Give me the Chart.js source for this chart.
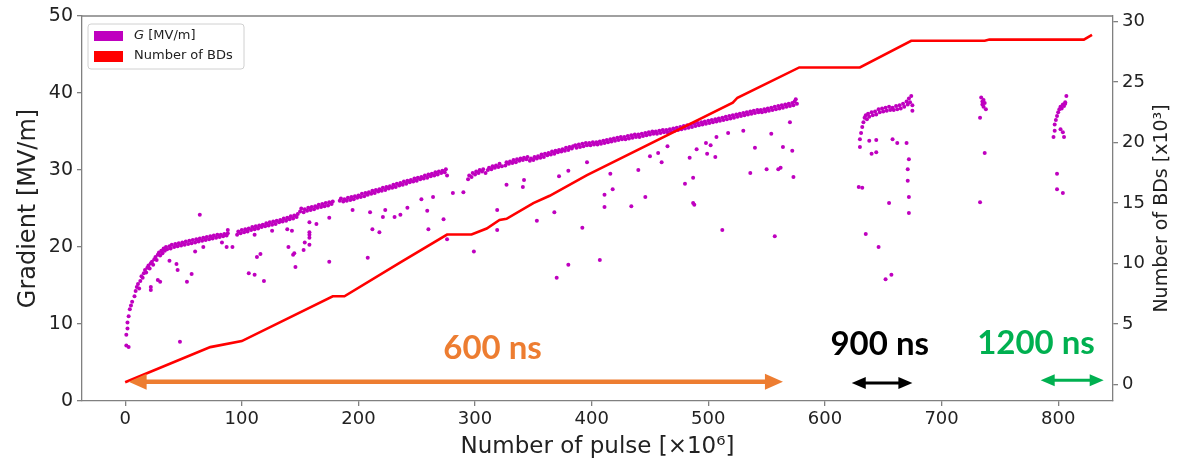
<!DOCTYPE html>
<html>
<head>
<meta charset="utf-8">
<script src="https://cdn.jsdelivr.net/npm/chart.js@4.4.1/dist/chart.umd.min.js"></script>
<style>
  html, body { margin: 0; padding: 0; background: #fff; }
  #wrap { width: 1197px; height: 463px; }
</style>
</head>
<body>
<div id="wrap"><canvas id="grafico" width="1197" height="463"></canvas></div>
<script>
// main dense band of the gradient, [pulse x1e6, MV/m]
const bandPoints = [
  [1,7.2],[1,8.6],[2,9.4],[2,10.2],[3,11.0],[4,11.9],[5,12.4],[6,12.9],[8,13.6],[9,14.3],[10,14.8],[11,15.2],[12,14.6],[13,15.6],[14,16.2],[15,16.0],[16,16.6],[17,17.0],[18,16.7],[19,17.3],[20,17.6],[21,17.2],[22,17.9],[23,18.1],[24,17.7],[25,18.4],[26,18.7],[27,18.3],[28,19.0],[29,19.3],[30,18.9],[31,19.5],[32,19.2],[33,19.8],[34,19.5],[35,20.0],[36,19.7],[38,20.1],[39,19.8],[40,20.3],[42,20.0],[43,20.4],[45,20.1],[46,20.5],[48,20.2],[49,20.6],[51,20.3],[52,20.7],[54,20.4],[55,20.8],[57,20.5],[58,20.9],[60,20.6],[61,21.0],[63,20.7],[64,21.1],[66,20.8],[67,21.2],[69,20.9],[70,21.3],[72,21.0],[73,21.4],[75,21.1],[76,21.5],[78,21.2],[79,21.6],[81,21.3],[82,21.6],[84,21.4],[85,21.7],[87,21.5],[88,21.8],
  [96,21.6],[97,22.0],[99,21.8],[100,22.2],[102,21.9],[103,22.3],[105,22.0],[106,22.4],[108,22.2],[109,22.6],[111,22.3],[112,22.7],[114,22.4],[115,22.8],[117,22.6],[118,22.9],[120,22.7],[121,23.1],[123,22.8],[124,23.2],[126,22.9],[127,23.3],[129,23.0],[130,23.4],[132,23.2],[133,23.5],[135,23.3],[136,23.7],[138,23.4],[139,23.8],[141,23.6],[142,24.0],[144,23.7],[145,24.1],[147,23.9],[148,24.3],[150,24.6],[151,25.0],[153,24.5],[154,24.9],[156,24.7],[157,25.1],[159,24.8],[160,25.2],[162,24.9],[163,25.3],[165,25.1],[166,25.5],[168,25.2],[169,25.6],[171,25.3],[172,25.7],[174,25.4],[175,25.8],[177,25.6],[178,25.9],
  [184,26.0],[185,26.3],[187,25.9],[188,26.2],[190,26.0],[191,26.4],[193,26.1],[194,26.5],[196,26.2],[197,26.6],[199,26.4],[200,26.7],[202,26.5],[203,26.9],[205,26.6],[206,27.0],[208,26.8],[209,27.1],[211,26.9],[212,27.3],[214,27.0],[215,27.4],[217,27.2],[218,27.5],[220,27.3],[221,27.7],[223,27.4],[224,27.8],[226,27.6],[227,27.9],[229,27.7],[230,28.1],[232,27.8],[233,28.2],[235,28.0],[236,28.3],[238,28.1],[239,28.5],[241,28.2],[242,28.6],[244,28.4],[245,28.7],[247,28.5],[248,28.9],[250,28.6],[251,29.0],[253,28.8],[254,29.1],[256,28.9],[257,29.3],[259,29.0],[260,29.4],[262,29.2],[263,29.5],[265,29.3],[266,29.7],[268,29.4],[269,29.8],[271,29.6],[272,29.9],[274,29.7],[275,30.1],[276,29.3],
  [294,28.8],[295,29.3],[297,29.1],[298,29.6],[300,29.4],[301,29.8],[303,29.6],[304,30.0],[306,29.8],[307,30.1],[309,29.6],[311,30.0],[312,30.3],[314,30.1],[315,30.5],[317,30.3],[318,30.6],[320,30.4],[321,30.8],[323,30.5],
  [326,30.6],[327,31.0],[329,30.8],[330,31.1],[332,30.9],[333,31.3],[335,31.0],[336,31.4],[338,31.2],[339,31.5],[341,31.3],[342,31.6],[344,31.4],[345,31.7],[347,31.2],[348,31.5],[350,31.3],[351,31.7],[353,31.5],[354,31.8],[356,31.6],[357,32.0],[359,31.7],[360,32.1],[362,31.9],[363,32.2],[365,32.0],[366,32.4],[368,32.1],[369,32.5],[371,32.3],[372,32.6],[374,32.4],[375,32.7],[377,32.5],[378,32.9],[380,32.6],[381,33.0],[383,32.8],[384,33.1],
  [386,33.2],[387,32.9],[389,33.3],[390,33.0],[392,33.4],[393,33.1],[395,33.5],[396,33.2],[398,33.5],[399,33.2],[401,33.6],[402,33.3],[404,33.6],[405,33.3],[407,33.7],[408,33.4],[410,33.8],[411,33.5],[413,33.9],[414,33.6],[416,34.0],[417,33.7],[419,34.1],[420,33.8],[422,34.2],[423,33.9],[425,34.3],[426,34.0],[428,34.3],[429,34.0],[431,34.4],[432,34.1],[434,34.5],[435,34.2],[437,34.6],[438,34.3],[440,34.6],[441,34.3],[443,34.7],[444,34.4],[446,34.8],[447,34.5],[449,34.9],[450,34.6],[452,35.0],[453,34.7],[455,35.0],[456,34.7],[458,35.1],[459,34.8],[461,35.2],[462,34.9],[464,35.2],[465,34.9],[467,35.3],[468,35.0],[470,35.4],[471,35.1],[473,35.5],[474,35.2],[476,35.6],[477,35.3],[479,35.7],[480,35.4],[482,35.8],[483,35.5],[485,35.9],[486,35.6],[488,36.0],[489,35.7],[491,36.1],[492,35.8],[494,36.2],[495,35.9],[497,36.3],[498,36.0],[500,36.4],[501,36.1],[503,36.5],[504,36.2],[506,36.6],[507,36.3],[509,36.7],[510,36.4],[512,36.8],[513,36.5],[515,36.9],[516,36.6],[518,37.0],[519,36.7],[521,37.1],[522,36.8],[524,37.2],[525,36.9],[527,37.3],[528,37.0],[530,37.4],[531,37.1],[533,37.5],[534,37.2],[536,37.6],[537,37.3],[539,37.7],[540,37.4],[542,37.8],[543,37.5],[545,37.8],[546,37.5],[548,37.9],[549,37.6],[551,38.0],[552,37.7],[554,38.1],[555,37.8],[557,38.2],[558,37.9],[560,38.3],[561,38.0],[563,38.4],[564,38.1],[566,38.5],[567,38.2],[569,38.6],[570,38.3],[572,38.7],[573,38.4],[574,38.9],[575,39.2],[576,38.6],
  // 900 ns run
  [630,33.0],[630,34.0],[631,34.8],[632,35.6],[633,36.2],[634,36.8],[635,37.1],[636,36.6],[637,37.3],[638,36.9],[640,37.5],[641,37.1],[643,37.6],[644,37.2],[646,37.9],[647,37.5],[649,38.0],[650,37.6],[652,38.1],[653,37.7],[655,38.2],[656,37.8],[658,38.1],[659,37.8],[661,38.3],[662,37.9],[664,38.4],[665,38.0],[667,38.6],[668,38.2],[670,38.9],[671,38.5],[672,39.3],[673,38.8],[674,39.6],[675,38.4],
  [734,39.4],[735,38.9],[735,38.5],[736,39.1],[736,38.2],[737,38.7],[738,37.9],
  // 1200 ns run
  [796,34.3],[797,35.1],[797,35.9],[798,36.5],[799,37.0],[800,37.5],[801,37.9],[802,38.2],[803,38.0],[804,38.5],[805,38.3],[806,38.8],[807,39.6],[806,38.6]
];

// isolated points below the band (breakdown pulses)
const outlierPoints = [
  [3,7.0],[47,7.7],[64,24.2],[38,18.2],[44,17.8],[45,17.0],[53,15.5],[57,16.5],[28,15.7],[30,15.5],[22,14.8],[22,14.4],
  [60,19.4],[67,20.0],[83,20.6],[87,20.0],[92,20.0],[88,22.2],[106,16.6],[111,16.4],[119,15.6],[113,18.7],[116,19.1],[111,21.6],
  [126,22.1],[139,22.3],[143,22.1],[140,20.0],[144,19.0],[145,19.2],[146,17.4],[153,19.6],[154,20.6],[158,20.3],[158,21.2],[158,21.6],
  [158,21.9],[158,23.2],[164,23.0],[175,18.1],[175,23.8],
  [195,24.8],[210,24.5],[212,22.3],[218,21.9],[221,23.9],[223,24.8],[231,23.9],[236,24.2],[242,25.1],[254,26.2],[264,26.5],[260,22.3],
  [259,24.7],[273,23.6],[276,21.0],[281,27.0],[290,27.1],[208,18.6],[299,19.4],[319,24.8],[319,22.2],[327,28.1],[342,28.7],[341,27.8],
  [353,23.4],[368,24.5],[372,29.2],[380,29.9],[392,22.5],[396,31.0],[380,17.7],[370,16.0],[407,18.3],
  [411,26.8],[411,25.2],[418,27.5],[416,29.5],[434,25.3],[440,30.0],[446,26.5],[450,31.8],[460,31.0],[457,32.2],[465,33.1],[480,28.2],
  [484,31.6],[487,29.0],[487,25.7],[488,25.5],[490,32.7],[498,33.5],[502,33.2],[499,32.1],[506,31.7],[507,34.3],[512,22.2],[517,34.8],
  [530,35.1],[536,29.6],[540,32.9],[550,30.1],[554,34.7],[557,21.4],[560,30.1],[562,30.3],[564,33.0],[570,36.2],[572,32.5],[573,29.1],
  [629,27.8],[632,27.7],[635,21.7],[638,33.8],[640,32.1],[644,32.3],[646,20.0],[644,33.9],[655,25.7],[658,34.0],[662,33.5],[670,33.5],
  [672,31.4],[671,30.1],[671,28.6],[672,26.5],[672,24.4],[652,15.8],[657,16.4],[675,37.7],
  [733,36.8],[737,32.2],[733,25.8],
  [799,29.5],[799,27.5],[804,27.0],[802,35.3],[804,34.9],[805,34.3]
];

// cumulative number of breakdowns [x1e3]
const bdPulse = [0, 73, 100, 178, 188, 236, 276, 297, 310, 321, 327, 350, 364, 396, 521, 525, 578, 630, 674, 737, 741, 822, 829];
const bdCount = [0.2, 3.1, 3.6, 7.3, 7.3, 10.1, 12.4, 12.4, 12.9, 13.6, 13.7, 15.0, 15.6, 17.3, 23.3, 23.7, 26.2, 26.2, 28.4, 28.4, 28.5, 28.5, 28.9];

// pulse-length annotations: text, colour, arrow start/end, arrow level, text centre, text level
const etiquetas = ['600 ns', '900 ns', '1200 ns'];
const coresEtiq = ['#ED7D31', '#000000', '#00B050'];
const setaIni = [3, 623, 785];
const setaFim = [564, 675, 839];
const setaNivel = [2.5, 2.35, 2.7];
const textoX = [315, 647, 781];
const textoNivel = [5.5, 6.0, 6.1];

const FONTE = "'DejaVu Sans', sans-serif";

function seta(ctx, x1, x2, yy, cor, lw, hl, hw) {
  ctx.save();
  ctx.strokeStyle = cor; ctx.fillStyle = cor; ctx.lineWidth = lw;
  ctx.beginPath(); ctx.moveTo(x1 + hl * 0.8, yy); ctx.lineTo(x2 - hl * 0.8, yy); ctx.stroke();
  ctx.beginPath(); ctx.moveTo(x1, yy); ctx.lineTo(x1 + hl, yy - hw); ctx.lineTo(x1 + hl, yy + hw); ctx.closePath(); ctx.fill();
  ctx.beginPath(); ctx.moveTo(x2, yy); ctx.lineTo(x2 - hl, yy - hw); ctx.lineTo(x2 - hl, yy + hw); ctx.closePath(); ctx.fill();
  ctx.restore();
}

const decoracao = {
  id: 'decoracao',
  afterDatasetsDraw(chart) {
    const { ctx, chartArea: a, scales } = chart;
    const sx = scales.x, sy = scales.y;

    // top spine
    ctx.save();
    ctx.strokeStyle = '#808080'; ctx.lineWidth = 1.3;
    ctx.beginPath(); ctx.moveTo(a.left, a.top); ctx.lineTo(a.right, a.top); ctx.stroke();
    ctx.restore();

    // arrows + labels
    etiquetas.forEach((t, i) => {
      const grossa = i === 0;
      seta(ctx, sx.getPixelForValue(setaIni[i]), sx.getPixelForValue(setaFim[i]), sy.getPixelForValue(setaNivel[i]),
        coresEtiq[i], grossa ? 4.5 : 3, grossa ? 18 : 14, grossa ? 8 : 6);
      ctx.save();
      ctx.fillStyle = coresEtiq[i];
      ctx.font = "bold 33px Lato, 'Open Sans', sans-serif";
      ctx.textAlign = 'center'; ctx.textBaseline = 'alphabetic';
      ctx.fillText(t, sx.getPixelForValue(textoX[i]), sy.getPixelForValue(textoNivel[i]));
      ctx.restore();
    });

    // legend
    const lx = a.left + 6, ly = a.top + 8;
    ctx.save();
    ctx.fillStyle = 'rgba(255,255,255,0.85)';
    ctx.strokeStyle = '#d0d0d0'; ctx.lineWidth = 1;
    ctx.beginPath(); ctx.roundRect(lx, ly, 156, 45, 3); ctx.fill(); ctx.stroke();
    ctx.fillStyle = '#BF00BF'; ctx.fillRect(lx + 6, ly + 7, 29, 10);
    ctx.fillStyle = '#FF0000'; ctx.fillRect(lx + 6, ly + 27, 29, 11);
    ctx.fillStyle = '#222'; ctx.textBaseline = 'middle'; ctx.textAlign = 'left';
    ctx.font = 'italic 13px ' + FONTE;
    ctx.fillText('G', lx + 46, ly + 12);
    const wG = ctx.measureText('G').width;
    ctx.font = '13px ' + FONTE;
    ctx.fillText(' [MV/m]', lx + 46 + wG, ly + 12);
    ctx.fillText('Number of BDs', lx + 46, ly + 32);
    ctx.restore();

    // right axis title, reading bottom to top like the left one
    ctx.save();
    ctx.translate(1162, (a.top + a.bottom) / 2);
    ctx.rotate(-Math.PI / 2);
    ctx.fillStyle = '#222'; ctx.font = '19px ' + FONTE;
    ctx.textAlign = 'center'; ctx.textBaseline = 'middle';
    ctx.fillText('Number of BDs [x10\u00B3]', 0, 0);
    ctx.restore();
  }
};

const eixoComum = {
  grid: { drawOnChartArea: false, drawTicks: true, tickLength: 5, color: '#808080', lineWidth: 1.3 },
  border: { display: true, color: '#808080', width: 1.3 }
};

const grafico = new Chart(document.getElementById('grafico').getContext('2d'), {
  type: 'scatter',
  plugins: [decoracao],
  data: {
    datasets: [
      {
        label: 'Number of BDs', type: 'line', yAxisID: 'y2', order: 0,
        data: bdPulse.map((p, i) => ({ x: p, y: bdCount[i] })),
        borderColor: '#FF0000', borderWidth: 2.6, pointRadius: 0, tension: 0, fill: false
      },
      {
        label: 'G [MV/m]', yAxisID: 'y', order: 1,
        data: bandPoints.concat(outlierPoints).map(p => ({ x: p[0], y: p[1] })),
        backgroundColor: '#BF00BF', borderWidth: 0, pointRadius: 2, pointHoverRadius: 2
      }
    ]
  },
  options: {
    responsive: false,
    animation: false,
    devicePixelRatio: 1,
    layout: { padding: { top: 16, left: 0, right: 0, bottom: 0 } },
    plugins: { legend: { display: false }, tooltip: { enabled: false } },
    scales: {
      x: {
        type: 'linear', min: -37, max: 847, ...eixoComum,
        ticks: { stepSize: 100, includeBounds: false, padding: 3, color: '#222', font: { family: FONTE, size: 18 } },
        title: { display: true, text: 'Number of pulse [\u00D710\u2076]', color: '#222', font: { family: FONTE, size: 23 }, padding: { top: 0, bottom: 2 } },
        afterFit(s) { s.height = 62; }
      },
      y: {
        type: 'linear', position: 'left', min: 0, max: 50, ...eixoComum,
        ticks: { stepSize: 10, includeBounds: false, padding: 4, color: '#222', font: { family: FONTE, size: 19 } },
        title: { display: true, text: 'Gradient [MV/m]', color: '#222', font: { family: FONTE, size: 24 }, padding: { top: 14, bottom: 0 } },
        afterFit(s) { s.width = 82; }
      },
      y2: {
        type: 'linear', position: 'right', min: -1.35, max: 30.45, ...eixoComum,
        ticks: { stepSize: 5, includeBounds: false, padding: 4, color: '#222', font: { family: FONTE, size: 18 } },
        afterFit(s) { s.width = 84; }
      }
    }
  }
});
</script>
</body>
</html>
